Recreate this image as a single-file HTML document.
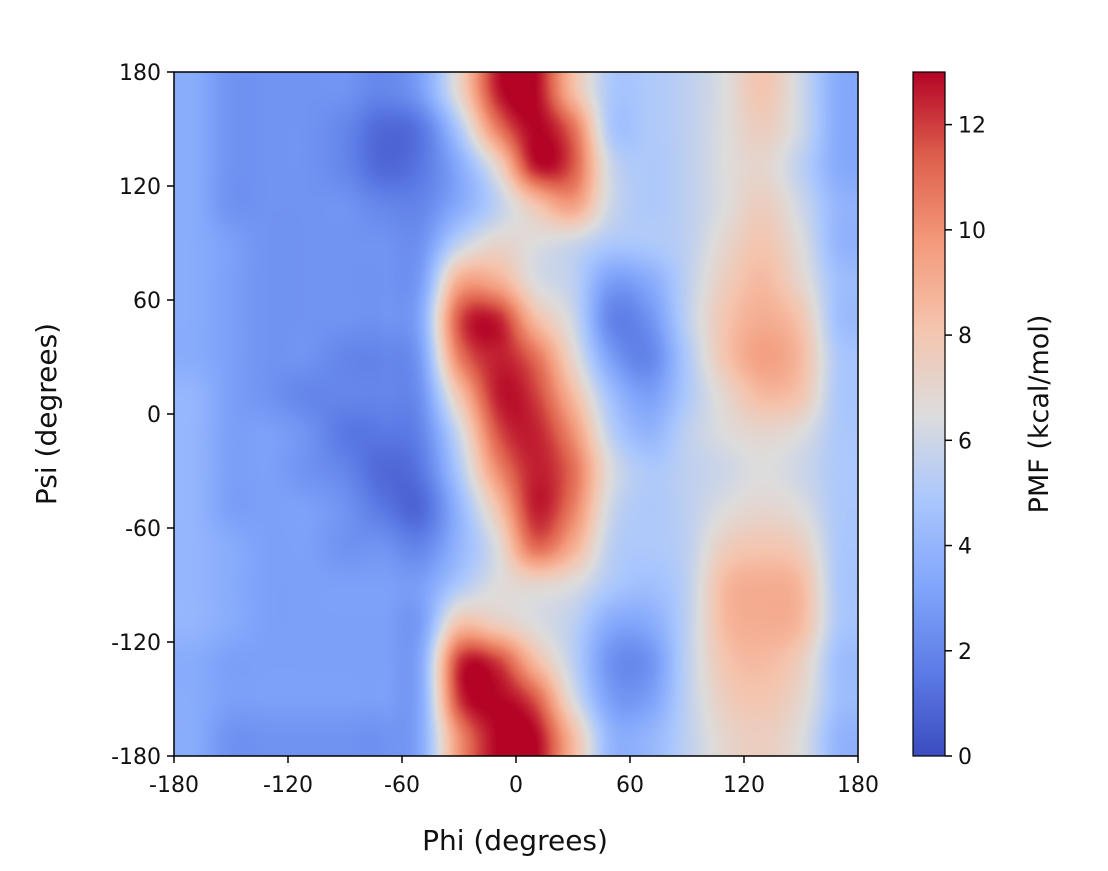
<!DOCTYPE html>
<html><head><meta charset="utf-8"><style>
body{margin:0;background:#fff;position:relative;width:1108px;height:871px;overflow:hidden;}
svg text{font-family:"DejaVu Sans","Liberation Sans",sans-serif;fill:#111;}
#heat{position:absolute;left:174px;top:72px;}
#chart{position:absolute;left:0;top:0;}
</style></head><body>
<canvas id="heat" width="684" height="684"></canvas>
<svg id="chart" width="1108" height="871" viewBox="0 0 1108 871">
<defs>
<linearGradient id="cbgrad" x1="0" y1="1" x2="0" y2="0">
<stop offset="0" stop-color="#3b4cc0"/><stop offset="0.125" stop-color="#5d7ce6"/><stop offset="0.25" stop-color="#82a6fb"/><stop offset="0.375" stop-color="#aac7fd"/><stop offset="0.5" stop-color="#dddcdc"/><stop offset="0.625" stop-color="#f5c4ad"/><stop offset="0.75" stop-color="#f49a7b"/><stop offset="0.875" stop-color="#de604c"/><stop offset="1" stop-color="#b40426"/>
</linearGradient>
</defs>
<rect x="174" y="72" width="684" height="684" fill="none" stroke="#000" stroke-width="1.5"/>
<g id="axes"></g>
<rect x="913" y="72" width="32" height="684" fill="url(#cbgrad)" stroke="#000" stroke-width="1.2"/>
<text x="515" y="850" font-size="28" text-anchor="middle">Phi (degrees)</text>
<text transform="translate(56,414) rotate(-90)" font-size="28" text-anchor="middle">Psi (degrees)</text>
<text transform="translate(1048,414) rotate(-90)" font-size="27" text-anchor="middle">PMF (kcal/mol)</text>
</svg>
<script>
const phiCenters=[-170,-150,-130,-110,-90,-70,-50,-30,-10,10,30,50,70,90,110,130,150,170];
const psiCenters=[170,150,130,110,90,70,50,30,10,-10,-30,-50,-70,-90,-110,-130,-150,-170];
const pmf=[
[3.5,2.5,2.5,2.5,2.5,2,3,7,12.5,13,8.5,5,5,5.5,6.5,8,6,3.5],
[3.5,2.5,2.5,2.5,2,1,1.5,5,10.5,13,11,5,5,5.5,6.5,7.5,6,3.5],
[3.5,2.5,2.5,2.5,2,1,1.5,3.5,7,12.5,11.5,6,5,5.5,6.5,7,5.5,3.5],
[3.5,2.5,2.5,2.5,2.5,2,2,3.5,5.5,8,9.5,6,5,5.5,6.5,7.5,6,4],
[3.5,3,2.5,2.5,2.5,2.5,2.5,5.5,7,6.5,6,5,5,5.5,7,8,6.5,4],
[3.5,3,2.5,2.5,2.5,2.5,3,9,9,6.5,5.5,3,3.5,5.5,7.5,8.5,7,4.5],
[3.5,3,2.5,2.5,2.5,2.5,3.5,11.5,12.5,8.5,6,2,2.5,5.5,8,9,8,4.5],
[3.5,3,2.5,2.5,2,2,3,10.5,12.5,11,7,3,2,5,8,9.5,8.5,5],
[4,3,2.5,2,2,2,2.5,8,12.5,12,8.5,4.5,3,5,7,8.5,8,5],
[4,3,3,2.5,1.5,1.5,2,6,11.5,12.5,10,5.5,4,5.5,6.5,7,6.5,5],
[4,3,3,2.5,2,1,1.5,5,10,12.5,11,6.5,5,5.5,6,6.5,6,5],
[4,3,3,3,2.5,1.5,1,4,8,12.5,10.5,6,5,5.5,6.5,7,6.5,5],
[4,3.5,3,3,2.5,2.5,2,4,6.5,11,9,5.5,5,5.5,7.5,8,7.5,5],
[4,3.5,3,3,3,3,3,5,6.5,7,6.5,5,4.5,5.5,8.5,9,8.5,5],
[4,3.5,3,3,3,3,3,8,7.5,6.5,5.5,3.5,3.5,5.5,8.5,9,8.5,5],
[3.5,3,3,3,3,3,3.5,12,12,8.5,5.5,2.5,2.5,5.5,8,8.5,7.5,4.5],
[3.5,3,3,3,3,3,3.5,12,13,11.5,6.5,3,3,5.5,7.5,8,7,4.5],
[3.5,2.5,2.5,2.5,2.5,2.5,3.5,10,13,13,8.5,4,4,5.5,7,7.5,6.5,4]
];
const xTicks=[-180,-120,-60,0,60,120,180];
const yTicks=[-180,-120,-60,0,60,120,180];
const cbTicks=[0,2,4,6,8,10,12];
const cellSize=20, vmin=0, vmax=13;
const X0=174,X1=858,Y0=756,Y1=72,CB0=756,CB1=72;
const xs=v=>X0+(v+180)/360*(X1-X0);
const ys=v=>Y0-(v+180)/360*(Y0-Y1);
const xinv=px=>(px-X0)/(X1-X0)*360-180;
const yinv=py=>(Y0-py)/(Y0-Y1)*360-180;
const cs=v=>CB0-(v-vmin)/(vmax-vmin)*(CB0-CB1);
const stops=[[0,[59,76,192]],[0.125,[93,124,230]],[0.25,[130,166,251]],[0.375,[170,199,253]],[0.5,[221,220,220]],[0.625,[245,196,173]],[0.75,[244,154,123]],[0.875,[222,96,76]],[1,[180,4,38]]];
function cmapRGB(v){let t=Math.max(0,Math.min(1,(v-vmin)/(vmax-vmin)));
for(let i=1;i<stops.length;i++){if(t<=stops[i][0]){const a=stops[i-1],b=stops[i],f=(t-a[0])/(b[0]-a[0]);
return a[1].map((c,k)=>Math.round(c+(b[1][k]-c)*f));}}return [180,4,38];}
const nR=psiCenters.length,nC=phiCenters.length;
function g(r,c){r=Math.max(0,Math.min(nR-1,r));c=Math.max(0,Math.min(nC-1,c));return pmf[r][c];}
function cr(p0,p1,p2,p3,t){return 0.5*((2*p1)+(-p0+p2)*t+(2*p0-5*p1+4*p2-p3)*t*t+(-p0+3*p1-3*p2+p3)*t*t*t);}
function valueAt(phi,psi){
const fc=(phi-phiCenters[0])/cellSize, fr=(psiCenters[0]-psi)/cellSize;
const c0=Math.floor(fc), r0=Math.floor(fr), tc=fc-c0, tr=fr-r0;
const rows=[];
for(let i=-1;i<=2;i++)rows.push(cr(g(r0+i,c0-1),g(r0+i,c0),g(r0+i,c0+1),g(r0+i,c0+2),tc));
return cr(rows[0],rows[1],rows[2],rows[3],tr);}
const cv=document.getElementById('heat'),ctx=cv.getContext('2d');
const W=cv.width,H=cv.height,img=ctx.createImageData(W,H);
for(let py=0;py<H;py++){for(let px=0;px<W;px++){
const v=valueAt(xinv(X0+px+0.5),yinv(Y1+py+0.5));
const col=cmapRGB(v),o=(py*W+px)*4;
img.data[o]=col[0];img.data[o+1]=col[1];img.data[o+2]=col[2];img.data[o+3]=255;}}
ctx.putImageData(img,0,0);
const NS='http://www.w3.org/2000/svg';
const axes=document.getElementById('axes');
function add(tag,attrs,text){const e=document.createElementNS(NS,tag);for(const k in attrs)e.setAttribute(k,attrs[k]);if(text!==undefined)e.textContent=text;axes.appendChild(e);return e;}
xTicks.forEach(t=>{const x=xs(t);
const l=add('line',{x1:x,x2:x,y1:756,y2:763,stroke:'#000','stroke-width':1.5});


const tx=add('text',{x:x,y:792,'font-size':22,'text-anchor':'middle'},t);

});
yTicks.forEach(t=>{const y=ys(t);
const l=add('line',{x1:167,x2:174,y1:y,y2:y,stroke:'#000','stroke-width':1.5});


const tx=add('text',{x:161,y:y+8,'font-size':22,'text-anchor':'end'},t);

});
cbTicks.forEach(t=>{const y=cs(t);
const l=add('line',{x1:945,x2:952,y1:y,y2:y,stroke:'#000','stroke-width':1.5});


const tx=add('text',{x:958,y:y+8,'font-size':22},t);

});
</script>
</body></html>
